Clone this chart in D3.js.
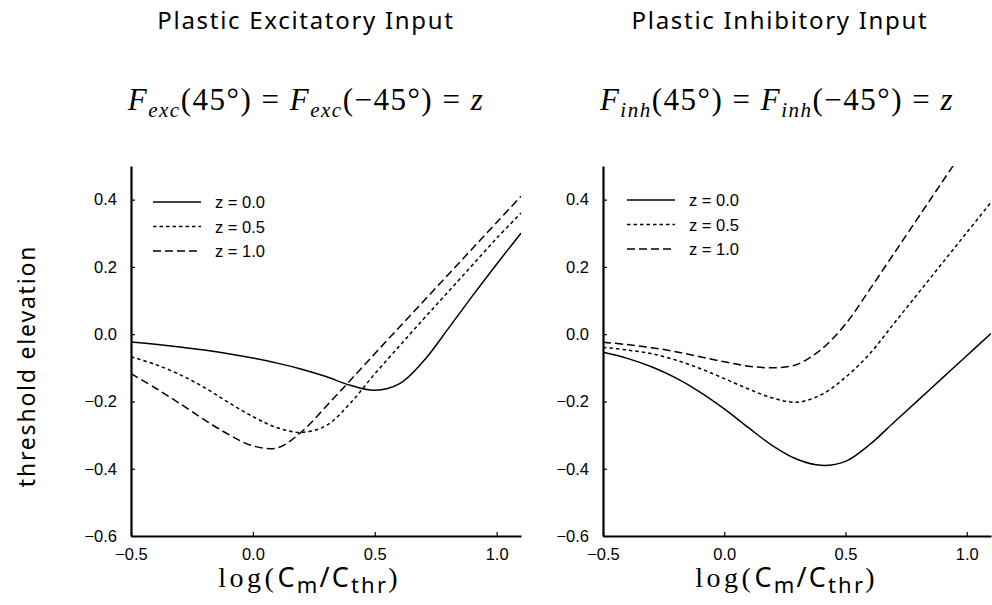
<!DOCTYPE html>
<html>
<head>
<meta charset="utf-8">
<script src="https://cdn.jsdelivr.net/npm/d3@7"></script>
<style>
  html, body { margin: 0; padding: 0; background: #fff; }
  svg { display: block; }
</style>
</head>
<body>
<svg id="chart" width="992" height="605"></svg>
<script>
// log(Cm/Cthr) sample positions shared by every curve
const logContrast = [-0.5, -0.4, -0.3, -0.2, -0.1, 0.0, 0.1, 0.2, 0.3, 0.4, 0.5, 0.6, 0.7, 0.8, 0.9, 1.0, 1.1];

// Threshold elevation, plastic excitatory input
const excZ00 = [-0.023, -0.030, -0.038, -0.047, -0.058, -0.071, -0.086, -0.104, -0.126, -0.152, -0.167, -0.148, -0.080, 0.015, 0.113, 0.208, 0.300];
const excZ05 = [-0.067, -0.090, -0.120, -0.158, -0.203, -0.245, -0.278, -0.292, -0.272, -0.205, -0.118, -0.036, 0.045, 0.125, 0.205, 0.285, 0.360];
const excZ10 = [-0.117, -0.160, -0.206, -0.254, -0.298, -0.332, -0.338, -0.290, -0.215, -0.137, -0.058, 0.020, 0.098, 0.176, 0.254, 0.332, 0.410];

// Threshold elevation, plastic inhibitory input
const inhZ00 = [-0.054, -0.072, -0.097, -0.130, -0.172, -0.222, -0.278, -0.332, -0.372, -0.390, -0.378, -0.328, -0.262, -0.196, -0.130, -0.064, 0.002];
const inhZ05 = [-0.039, -0.047, -0.058, -0.077, -0.102, -0.132, -0.163, -0.190, -0.202, -0.180, -0.128, -0.058, 0.032, 0.122, 0.212, 0.302, 0.392];
const inhZ10 = [-0.024, -0.031, -0.040, -0.052, -0.067, -0.082, -0.095, -0.100, -0.090, -0.045, 0.030, 0.133, 0.240, 0.347, 0.454, 0.561, null];

const seriesLabels = ["z = 0.0", "z = 0.5", "z = 1.0"];
const xTickValues = [-0.5, 0.0, 0.5, 1.0];
const yTickValues = [-0.6, -0.4, -0.2, 0.0, 0.2, 0.4];
const xDomain = [-0.5, 1.1];
const yDomain = [-0.6, 0.5];

const dashStyles = [null, "3.5,3", "8,4"];

const svg = d3.select("#chart");
const fmt = d3.format(".1f");
const serif = "'Liberation Serif', 'Times New Roman', serif";
const sans = "'Noto Sans', 'DejaVu Sans', sans-serif";
const helv = "'Liberation Sans', Arial, sans-serif";

const panels = [
  { id: "exc", left: 131, right: 521, legendX: 153, legendY: 202, sub: "exc",
    title: "Plastic Excitatory Input", series: [excZ00, excZ05, excZ10],
    titleX: 306, formulaX: 306, xlabelX: 309 },
  { id: "inh", left: 603, right: 991, legendX: 627, legendY: 200, sub: "inh",
    title: "Plastic Inhibitory Input", series: [inhZ00, inhZ05, inhZ10],
    titleX: 780, formulaX: 777, xlabelX: 786 }
];

const plotTop = 166, plotBottom = 536;

panels.forEach(p => {
  const x = d3.scaleLinear().domain(xDomain).range([p.left, p.right]);
  const y = d3.scaleLinear().domain(yDomain).range([plotBottom, plotTop]);
  const g = svg.append("g");

  // clip region for the curves
  svg.append("clipPath").attr("id", "clip-" + p.id)
    .append("rect").attr("x", p.left).attr("y", plotTop)
    .attr("width", p.right - p.left).attr("height", plotBottom - plotTop);

  // axes: ticks point inward
  const yAxis = d3.axisLeft(y).tickValues(yTickValues).tickFormat(fmt)
    .tickSizeInner(-4).tickSizeOuter(0).tickPadding(14);
  const xAxis = d3.axisBottom(x).tickValues(xTickValues).tickFormat(fmt)
    .tickSizeInner(-4).tickSizeOuter(0).tickPadding(12);

  const ya = g.append("g").attr("transform", `translate(${p.left},0)`).call(yAxis);
  const xa = g.append("g").attr("transform", `translate(0,${plotBottom})`).call(xAxis);
  [ya, xa].forEach(a => {
    a.select(".domain").attr("stroke", "#000").attr("stroke-width", 2.2);
    a.selectAll(".tick line").attr("stroke", "#000").attr("stroke-width", 1.2);
    a.selectAll(".tick text").attr("fill", "#000")
      .style("font-family", helv).style("font-size", "16.5px");
  });

  // curves
  const line = d3.line()
    .defined(d => d[1] !== null)
    .x(d => x(d[0])).y(d => y(d[1]))
    .curve(d3.curveCatmullRom.alpha(0.5));

  p.series.forEach((vals, i) => {
    g.append("path")
      .datum(logContrast.map((c, k) => [c, vals[k]]))
      .attr("clip-path", `url(#clip-${p.id})`)
      .attr("d", line)
      .attr("fill", "none").attr("stroke", "#000").attr("stroke-width", 1.5)
      .attr("stroke-dasharray", dashStyles[i]);
  });

  // legend
  seriesLabels.forEach((lab, i) => {
    const ly = p.legendY + i * 24.5;
    g.append("line").attr("x1", p.legendX).attr("x2", p.legendX + 48)
      .attr("y1", ly).attr("y2", ly)
      .attr("stroke", "#000").attr("stroke-width", 1.5)
      .attr("stroke-dasharray", dashStyles[i]);
    g.append("text").attr("x", p.legendX + 62).attr("y", ly + 6)
      .style("font-family", helv).style("font-size", "16.5px")
      .text(lab);
  });

  // panel title
  g.append("text").attr("x", p.titleX).attr("y", 29).attr("text-anchor", "middle")
    .style("font-family", sans).style("font-size", "24px").style("letter-spacing", "1.7px")
    .text(p.title);

  // formula F_sub(45°) = F_sub(−45°) = z
  const f = g.append("text").attr("x", p.formulaX).attr("y", 110).attr("text-anchor", "middle")
    .style("font-family", serif).style("font-size", "31px").style("letter-spacing", "1.5px");
  const parts = [
    ["F", "italic", 0], [p.sub, "italic", 1], ["(45°) = ", "normal", -1],
    ["F", "italic", 0], [p.sub, "italic", 1], ["(−45°) = ", "normal", -1], ["z", "italic", 0]
  ];
  parts.forEach(([t, st, shift]) => {
    const ts = f.append("tspan").style("font-style", st).text(t);
    if (shift === 1) ts.attr("dy", 7).style("font-size", "21px");
    if (shift === -1) ts.attr("dy", -7);
  });

  // x axis label log(Cm/Cthr)
  const xl = g.append("text").attr("x", p.xlabelX).attr("y", 587).attr("text-anchor", "middle")
    .style("font-size", "28px").style("letter-spacing", "2.2px");
  xl.append("tspan").style("font-family", serif).style("letter-spacing", "3.5px").text("log(");
  xl.append("tspan").style("font-family", sans).style("font-size", "27px").text("C");
  xl.append("tspan").style("font-family", sans).style("font-size", "22px").attr("dy", 6).text("m");
  xl.append("tspan").style("font-family", sans).style("font-size", "27px").attr("dy", -6).text("/C");
  xl.append("tspan").style("font-family", sans).style("font-size", "22px").attr("dy", 6).text("thr");
  xl.append("tspan").style("font-family", serif).attr("dy", -6).text(")");
});

// shared y axis label
svg.append("text")
  .attr("transform", "translate(35,366) rotate(-90)")
  .attr("text-anchor", "middle")
  .style("font-family", sans).style("font-size", "23px").style("letter-spacing", "1.8px")
  .text("threshold elevation");
</script>
</body>
</html>
